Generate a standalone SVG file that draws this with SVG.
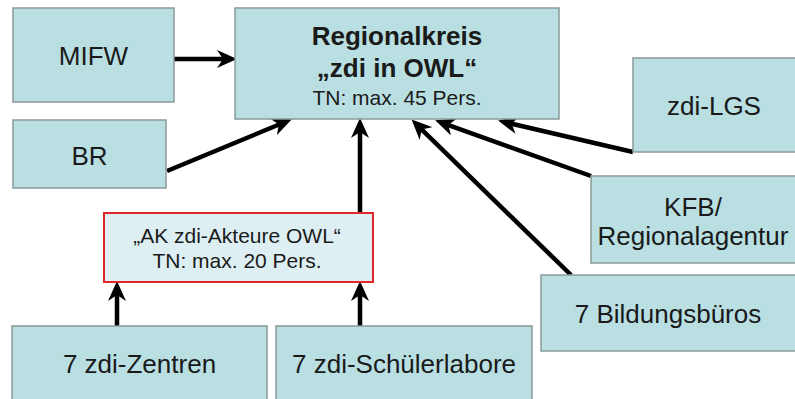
<svg xmlns="http://www.w3.org/2000/svg" width="795" height="399" viewBox="0 0 795 399">
<defs>
<style>
.box{fill:#b9dfe2;stroke:#8a9a9b;stroke-width:1.5}
.ak{fill:#ddeff3;stroke:#e0262b;stroke-width:2}
text{font-family:"Liberation Sans",Arial,sans-serif;fill:#1a1a1a;text-anchor:middle}
.big{font-size:26px}
.sm{font-size:21px}
.b{font-weight:bold}
.c{stroke:#000;stroke-width:4.5;fill:none;marker-end:url(#ah)}
</style>
<marker id="ah" viewBox="0 0 20 18" refX="14" refY="9" markerWidth="20" markerHeight="18" markerUnits="userSpaceOnUse" orient="auto">
<path d="M0,0 L20,9 L0,18 L6,9 z" fill="#000"/>
</marker>
</defs>
<rect width="795" height="399" fill="#fff"/>
<g id="connectors">
<line class="c" x1="174" y1="59" x2="231" y2="59"/>
<line class="c" x1="167" y1="171" x2="286.3" y2="121.5"/>
<line class="c" x1="360" y1="213" x2="360" y2="124"/>
<line class="c" x1="117" y1="326" x2="117" y2="287"/>
<line class="c" x1="360" y1="326" x2="360" y2="287"/>
<line class="c" x1="633" y1="152" x2="503.9" y2="121.9"/>
<line class="c" x1="591" y1="176" x2="440.8" y2="122.3"/>
<line class="c" x1="571" y1="275" x2="415.9" y2="123.8"/>
</g>
<g id="mifw"><rect class="box" x="13" y="8" width="161" height="94"/><text class="big" x="93.5" y="65">MIFW</text></g>
<g id="regionalkreis"><rect class="box" x="235" y="8" width="324" height="111"/>
<text class="big b" x="397" y="45">Regionalkreis</text>
<text class="big b" x="397" y="77">„zdi in OWL“</text>
<text class="sm" x="397" y="105">TN: max. 45 Pers.</text></g>
<g id="br"><rect class="box" x="13" y="120" width="153" height="68"/><text class="big" x="89.5" y="165">BR</text></g>
<g id="zdi-lgs"><rect class="box" x="633" y="58" width="164" height="94"/><text class="big" x="714" y="115">zdi-LGS</text></g>
<g id="kfb"><rect class="box" x="591" y="176" width="206" height="87"/><text class="big" x="693" y="216">KFB/</text><text class="big" x="693" y="245">Regionalagentur</text></g>
<g id="bildungsbueros"><rect class="box" x="541" y="275" width="256" height="76"/><text class="big" x="668" y="323">7 Bildungsbüros</text></g>
<g id="ak"><rect class="ak" x="104" y="213" width="269" height="69"/>
<text class="sm" x="237" y="243">„AK zdi-Akteure OWL“</text>
<text class="sm" x="237" y="268">TN: max. 20 Pers.</text></g>
<g id="zentren"><rect class="box" x="12" y="326" width="255" height="78"/><text class="big" x="139.5" y="373">7 zdi-Zentren</text></g>
<g id="schuelerlabore"><rect class="box" x="276" y="326" width="256" height="78"/><text class="big" x="404" y="373">7 zdi-Schülerlabore</text></g>
</svg>
